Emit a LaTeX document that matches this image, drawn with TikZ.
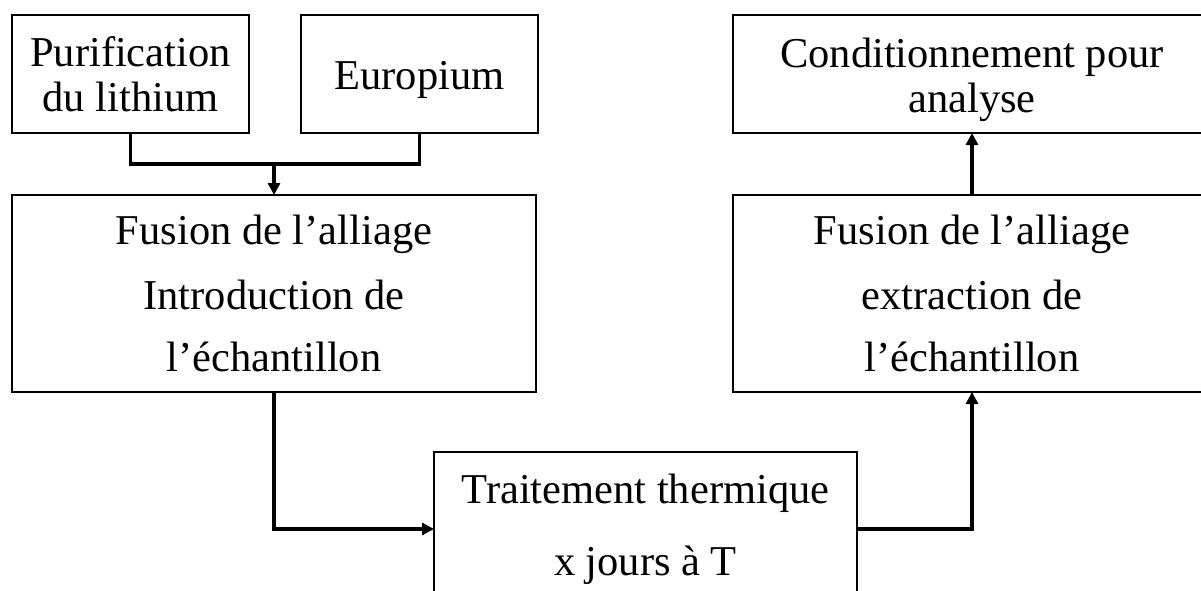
\documentclass[tikz,border=0pt]{standalone}
\usepackage{fontspec}
\setmainfont{Liberation Serif}
\usepackage{tikz}
\usetikzlibrary{arrows.meta, positioning}

\begin{document}
\begin{tikzpicture}[x=1pt, y=-1pt,
    box/.style={draw, line width=1.4pt, inner sep=0pt, outer sep=0pt, align=center,
                font=\fontsize{42.5}{45}\selectfont},
    conn/.style={line width=3.5pt, -{Triangle[length=12pt, width=12pt]}}]
        \useasboundingbox (0,0) rectangle (1201,591);
        \clip (0,0) rectangle (1201,591);

        % Boîtes du haut
        \node[box, minimum width=237pt, minimum height=118pt] (purif) at (130.5,74)
            {Purification\\du lithium};
        \node[box, minimum width=237pt, minimum height=118pt, text height=41pt] (europ) at (419.5,74)
            {Europium};
        \node[box, minimum width=478pt, minimum height=118pt, text height=86pt] (cond) at (972,74)
            {Conditionnement pour\\analyse};

        % Fusions
        \node[box, minimum width=524pt, minimum height=197pt] (fusL) at (274,293.5)
            {Fusion de l’alliage\\[20pt]Introduction de\\[17pt]l’échantillon};
        \node[box, minimum width=478pt, minimum height=197pt] (fusR) at (972,293.5)
            {Fusion de l’alliage\\[20pt]extraction de\\[17pt]l’échantillon};

        % Traitement
        \node[box, minimum width=423pt, minimum height=154pt] (trait) at (645.5,529)
            {Traitement thermique\\[27pt]x jours à T};

        % Liaisons
        \coordinate (join) at (274,164);
        \draw[line width=3.5pt] (purif.south) |- (join) -| (europ.south);
        \draw[conn] (join) -- (fusL.north);
        \draw[conn] (fusL.south) |- (trait.west);
        \draw[conn] (trait.east) -| (fusR.south);
        \draw[conn] (fusR.north) -- (cond.south);
      \end{tikzpicture}
\end{document}
